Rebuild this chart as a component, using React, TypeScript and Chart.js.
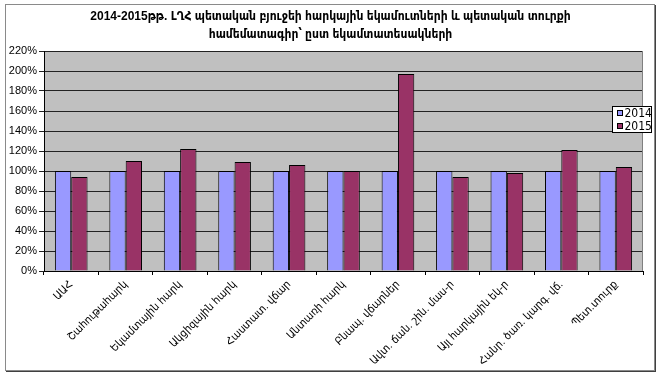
import React, { useEffect, useRef } from "react";
import { Chart, registerables } from "chart.js";

Chart.register(...registerables);

const categories = [
  "ԱԱՀ",
  "Շահութահարկ",
  "Եկամտային հարկ",
  "Ակցիզային հարկ",
  "Հաստատ. վճար",
  "Անտառի հարկ",
  "Բնապ. վճարներ",
  "Ավտ. ճան. շին. մաս-ր",
  "Այլ հարկային եկ-ր",
  "Հանր. ծառ. կարգ. վճ.",
  "Պետ.տուրք",
];
const seriesNames = ["2014", "2015"];
const values2014 = [100, 100, 100, 100, 100, 100, 100, 100, 100, 100, 100];
const values2015 = [94, 110, 122, 109, 106, 100, 197, 94, 98, 121, 104];
const yMax = 220;
const yStep = 20;
const titleLines = [
  "2014-2015թթ. ԼՂՀ պետական բյուջեի հարկային եկամուտների և պետական տուրքի",
  "համեմատագիր՝ ըստ եկամտատեսակների",
];

const FONT = "'Liberation Sans', 'DejaVu Sans Condensed', 'DejaVu Sans', sans-serif";
const NARROW = "'Liberation Sans Narrow', 'DejaVu Sans Condensed', 'Liberation Sans', sans-serif";

const plotDeco = {
  id: "plotDeco",
  beforeDraw(chart: any) {
    const { ctx, chartArea: a } = chart;
    ctx.save();
    ctx.fillStyle = "#c0c0c0";
    ctx.fillRect(a.left, a.top, a.right - a.left, a.bottom - a.top);
    ctx.restore();
  },
  afterDraw(chart: any) {
    const { ctx, chartArea: a } = chart;
    ctx.save();
    ctx.strokeStyle = "#808080";
    ctx.lineWidth = 1;
    ctx.beginPath();
    ctx.moveTo(Math.round(a.right) - 0.5, a.top);
    ctx.lineTo(Math.round(a.right) - 0.5, a.bottom);
    ctx.stroke();
    // legend
    const bx = 612.5, by = 106.5, bw = 39, bh = 26;
    ctx.fillStyle = "#ffffff";
    ctx.fillRect(bx, by, bw, bh);
    ctx.strokeStyle = "#000000";
    ctx.strokeRect(bx, by, bw, bh);
    ctx.font = "12px " + NARROW;
    ctx.textBaseline = "middle";
    ctx.textAlign = "left";
    chart.data.datasets.forEach((ds: any, i: number) => {
      const sy = 110.5 + i * 13;
      ctx.fillStyle = ds.backgroundColor;
      ctx.fillRect(617.5, sy, 5, 5);
      ctx.strokeStyle = "#000";
      ctx.strokeRect(617.5, sy, 5, 5);
      ctx.fillStyle = "#000";
      ctx.fillText(ds.label, 624.5, sy + 3);
    });
    ctx.restore();
  },
};

export default function App() {
  const ref = useRef<HTMLCanvasElement | null>(null);
  useEffect(() => {
    if (!ref.current) return;
    const chart = new Chart(ref.current, {
      type: "bar",
      data: {
        labels: categories,
        datasets: [
          {
            label: seriesNames[0],
            data: values2014,
            backgroundColor: "#9999ff",
            borderColor: "#000000",
            borderWidth: 1,
          },
          {
            label: seriesNames[1],
            data: values2015,
            backgroundColor: "#993366",
            borderColor: "#000000",
            borderWidth: 1,
          },
        ],
      },
      options: {
        animation: false,
        responsive: false,
        devicePixelRatio: 1,
        layout: { padding: 0 },
        datasets: { bar: { categoryPercentage: 0.6, barPercentage: 1 } },
        plugins: {
          legend: { display: false },
          tooltip: { enabled: false },
          title: {
            display: true,
            text: titleLines,
            color: "#000",
            font: { family: FONT, size: 12, weight: "bold", lineHeight: 1.5 },
            padding: { top: 8, bottom: 7 },
          },
        },
        scales: {
          x: {
            type: "category",
            offset: true,
            grid: {
              display: true,
              drawOnChartArea: false,
              drawTicks: true,
              tickLength: 4,
              color: "#000",
              offset: true,
            },
            border: { display: true, color: "#000" },
            ticks: {
              autoSkip: false,
              maxRotation: 45,
              minRotation: 45,
              color: "#000",
              padding: 3,
              font: { family: FONT, size: 11 },
            },
            afterFit: (s: any) => {
              s.height = 107;
            },
          },
          y: {
            min: 0,
            max: yMax,
            ticks: {
              stepSize: yStep,
              color: "#000",
              padding: 2,
              font: { family: FONT, size: 11 },
              callback: (v: any) => v + "%",
            },
            grid: { color: "#222", tickLength: 5, drawTicks: true },
            border: { display: true, color: "#000" },
            afterFit: (s: any) => {
              s.width = 44;
            },
          },
          pad: {
            type: "linear",
            position: "right",
            min: 0,
            max: 1,
            grid: { display: false },
            ticks: { display: false },
            border: { display: false },
            afterFit: (s: any) => {
              s.width = 18;
            },
          },
        },
      },
      plugins: [plotDeco],
    });
    return () => chart.destroy();
  }, []);

  return (
    <div style={{ position: "fixed", left: 0, top: 0, width: 661, height: 378, background: "#fff" }}>
      <div
        style={{
          position: "absolute",
          left: 5,
          top: 4,
          width: 648,
          height: 365,
          border: "1px solid #8a8a8a",
          boxShadow: "1px 1px 0 #404040",
        }}
      />
      <canvas ref={ref} width={661} height={378} style={{ position: "absolute", left: 0, top: 0 }} />
    </div>
  );
}
